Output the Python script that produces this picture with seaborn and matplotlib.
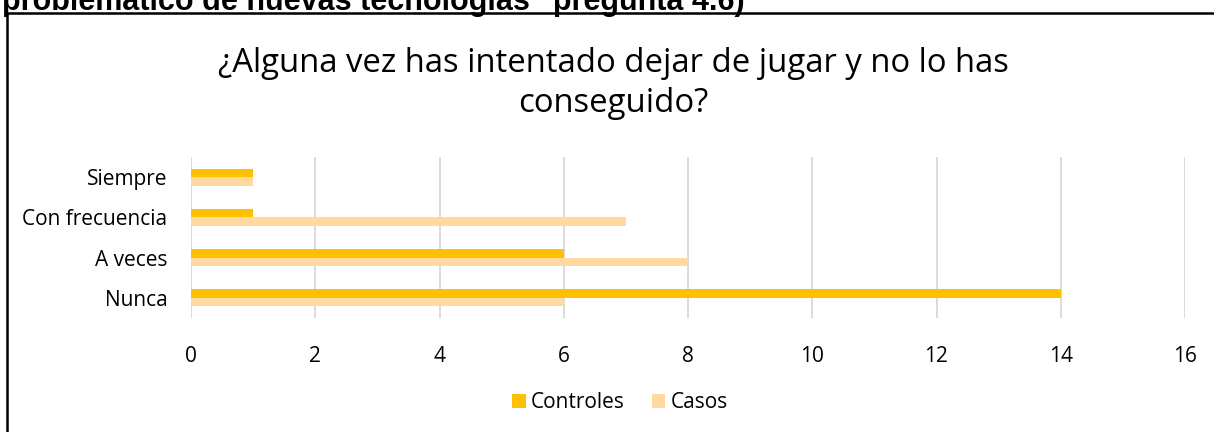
import matplotlib
matplotlib.use("Agg")
import matplotlib.pyplot as plt
import seaborn as sns
import pandas as pd
from matplotlib.patches import Rectangle

# Data
categorias = ["Siempre", "Con frecuencia", "A veces", "Nunca"]
controles = [1, 1, 6, 14]
casos = [1, 7, 8, 6]
series = ["Controles", "Casos"]
colores = ["#FFC000", "#FFD9A0"]
xticks = [0, 2, 4, 6, 8, 10, 12, 14, 16]

df = pd.DataFrame({
    "categoria": categorias * 2,
    "valor": controles + casos,
    "serie": [series[0]] * len(categorias) + [series[1]] * len(categorias),
})

sns.set_style("white")
plt.rcParams["font.family"] = ["Open Sans", "DejaVu Sans"]
plt.rcParams["text.color"] = "black"
plt.rcParams["xtick.color"] = "black"
plt.rcParams["ytick.color"] = "black"

fig = plt.figure(figsize=(12.14, 4.32), dpi=100)
ax = fig.add_axes([191 / 1214, 1 - 318 / 432, (1185 - 191) / 1214, (318 - 157) / 432])

sns.barplot(data=df, y="categoria", x="valor", hue="serie", order=categorias,
            hue_order=series, palette=colores, orient="h", width=0.42,
            saturation=1, linewidth=0, ax=ax, legend=True)

ax.set_xlim(0, 16)
ax.set_xticks(xticks)
ax.set_xticklabels([str(t) for t in xticks], fontsize=15)
ax.tick_params(axis="y", labelsize=15, length=0, pad=17, labelcolor="black")
ax.tick_params(axis="x", length=0, pad=20, labelcolor="black")
ax.grid(axis="x", color="#D9D9D9", linewidth=1.3)
ax.set_axisbelow(True)
for s in ax.spines.values():
    s.set_visible(False)
ax.set_xlabel("")
ax.set_ylabel("")

# legend is centred on the whole chart box, not the plot area
leg = ax.legend(loc="center", bbox_to_anchor=((620 - 191) / 994, 1 - (403 - 157) / 161),
                ncol=2, frameon=False, fontsize=15, handlelength=0.65,
                handleheight=0.65, handletextpad=0.25, columnspacing=1.3)
for t in leg.get_texts():
    t.set_color("black")

fig.text(613 / 1214, 1 - 83.5 / 432,
         "¿Alguna vez has intentado dejar de jugar y no lo has\nconseguido?",
         ha="center", va="center", fontsize=23.7, linespacing=1.3, color="black")

# chart frame, partly outside the crop
fig.patches.append(Rectangle((7 / 1214, -0.1), 1.2, 1 - 13 / 432 + 0.1,
                             transform=fig.transFigure, fill=False,
                             edgecolor="black", linewidth=1.8))

# cut-off document text above the chart
fig.text(2 / 1214, 1 - 10 / 432,
         "problemático de nuevas tecnologías\" pregunta 4.6)",
         ha="left", va="baseline", fontsize=22, fontweight="bold",
         family=["Liberation Sans", "DejaVu Sans"], color="black")

fig.savefig("out.png", dpi=100)
